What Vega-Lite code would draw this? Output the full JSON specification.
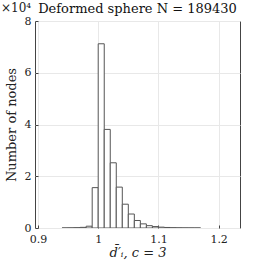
{
  "$schema": "https://vega.github.io/schema/vega-lite/v6.json",
  "width": 205,
  "height": 207,
  "autosize": {"type": "none"},
  "padding": {"left": 35, "top": 21, "right": 26, "bottom": 38},
  "background": "white",
  "config": {
    "font": "DejaVu Serif",
    "view": {"stroke": "#444444", "strokeWidth": 1},
    "axis": {
      "domain": false,
      "gridColor": "#e8e8e8",
      "gridWidth": 1,
      "tickColor": "#444444",
      "tickSize": -3,
      "labelFont": "DejaVu Serif",
      "labelFontSize": 11,
      "labelColor": "#222222",
      "titleFont": "DejaVu Serif",
      "titleFontWeight": "normal",
      "titleColor": "#222222"
    }
  },
  "title": {
    "text": "Deformed sphere N = 189430",
    "font": "DejaVu Serif",
    "fontSize": 13,
    "fontWeight": "normal",
    "color": "#111111",
    "offset": -14
  },
  "data": {
    "values": [
      {"start": 0.94, "end": 0.95, "count": 20},
      {"start": 0.95, "end": 0.96, "count": 50},
      {"start": 0.96, "end": 0.97, "count": 120},
      {"start": 0.97, "end": 0.98, "count": 250},
      {"start": 0.98, "end": 0.99, "count": 700},
      {"start": 0.99, "end": 1.00, "count": 15600},
      {"start": 1.00, "end": 1.01, "count": 71200},
      {"start": 1.01, "end": 1.02, "count": 38100},
      {"start": 1.02, "end": 1.03, "count": 25200},
      {"start": 1.03, "end": 1.04, "count": 15800},
      {"start": 1.04, "end": 1.05, "count": 9200},
      {"start": 1.05, "end": 1.06, "count": 5400},
      {"start": 1.06, "end": 1.07, "count": 2900},
      {"start": 1.07, "end": 1.08, "count": 1600},
      {"start": 1.08, "end": 1.09, "count": 900},
      {"start": 1.09, "end": 1.10, "count": 550},
      {"start": 1.10, "end": 1.11, "count": 330},
      {"start": 1.11, "end": 1.12, "count": 200},
      {"start": 1.12, "end": 1.13, "count": 120},
      {"start": 1.13, "end": 1.14, "count": 70},
      {"start": 1.14, "end": 1.15, "count": 40},
      {"start": 1.15, "end": 1.16, "count": 25},
      {"start": 1.16, "end": 1.17, "count": 15}
    ]
  },
  "layer": [
    {
      "mark": {"type": "bar", "fill": "white", "stroke": "#555555", "strokeWidth": 1, "clip": true},
      "encoding": {
        "x": {
          "field": "start",
          "type": "quantitative",
          "scale": {"domain": [0.895, 1.2355], "nice": false, "zero": false},
          "axis": {
            "values": [0.9, 1, 1.1, 1.2],
            "labelExpr": "datum.value == 1 ? '1' : format(datum.value, '.1f')",
            "labelPadding": 8,
            "title": "d̄′ᵢ, c = 3",
            "titleFontSize": 13,
            "titleFontStyle": "italic",
            "titlePadding": 2
          }
        },
        "x2": {"field": "end"},
        "y": {
          "field": "count",
          "type": "quantitative",
          "scale": {"domain": [0, 80000], "nice": false},
          "axis": {
            "values": [0, 20000, 40000, 60000, 80000],
            "labelExpr": "format(datum.value / 10000, 'd')",
            "labelPadding": 7,
            "title": "Number of nodes",
            "titleFontSize": 13,
            "titlePadding": 6
          }
        },
        "y2": {"datum": 0}
      }
    },
    {
      "data": {"values": [{"x": 0.895, "y": 80000, "label": "×10⁴"}]},
      "mark": {"type": "text", "align": "left", "baseline": "bottom", "dx": -34, "dy": -6, "fontSize": 12, "font": "DejaVu Serif", "color": "#222222"},
      "encoding": {
        "x": {"field": "x", "type": "quantitative"},
        "y": {"field": "y", "type": "quantitative"},
        "text": {"field": "label"}
      }
    }
  ]
}
